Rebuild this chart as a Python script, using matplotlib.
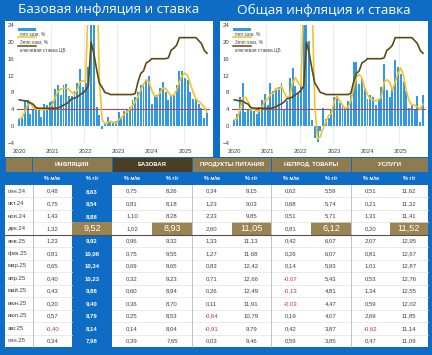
import numpy as np
import matplotlib
matplotlib.use('Agg')
import matplotlib.pyplot as plt
from matplotlib.patches import Rectangle
from matplotlib.lines import Line2D

plt.rcParams['font.family'] = ['Liberation Sans', 'DejaVu Sans']

# --- данные графиков: янв.2020 - сен.2025, помесячно ---
years = ['2020', '2021', '2022', '2023', '2024', '2025']

core_mm = [1.7, 2.0, 6.3, 6.3, 2.9, 3.9, 4.3, 3.9, 2.2, 5.3, 5.1, 5.7,
           5.9, 8.8, 9.8, 7.3, 9.8, 10.0, 7.1, 7.2, 8.3, 10.2, 13.6, 9.4,
           10.2, 14.0, 90.0, 30.0, 4.5, 2.7, -0.6, 0.6, 2.2, 1.2, 0.8, 1.2,
           3.3, 2.2, 3.5, 4.0, 4.6, 6.2, 6.8, 8.0, 9.8, 10.3, 11.0, 12.0,
           5.3, 7.2, 7.5, 9.0, 10.5, 8.2, 6.3, 7.5, 7.5, 9.7, 13.0, 13.0,
           11.5, 11.0, 8.0, 6.5, 6.5, 5.2, 4.3, 2.0, 3.2]
core_3m = [1.8, 2.0, 3.5, 5.0, 5.5, 4.5, 4.0, 4.0, 3.9, 3.8, 4.1, 4.3,
           5.2, 6.8, 8.2, 8.8, 9.0, 9.0, 8.7, 8.0, 7.6, 8.6, 10.5, 10.8,
           10.5, 30.0, 45.0, 45.0, 40.0, 11.0, 1.5, 0.6, 0.8, 1.2, 0.9, 0.6,
           1.5, 2.0, 2.8, 3.3, 4.0, 4.9, 5.8, 7.0, 8.5, 10.0, 11.0, 10.5,
           8.5, 7.2, 7.0, 8.0, 9.0, 9.0, 8.0, 7.2, 7.4, 8.5, 10.5, 12.0,
           12.6, 12.0, 10.0, 8.0, 6.5, 5.8, 5.3, 4.5, 3.3]
cpi_mm = [1.5, 2.8, 7.0, 10.2, 3.3, 3.9, 4.4, 3.6, 2.8, 4.5, 6.3, 7.7,
          4.9, 10.2, 8.3, 8.5, 9.3, 10.3, 4.0, 6.0, 11.5, 13.7, 9.5, 7.8,
          10.0, 30.0, 60.0, 20.2, 1.5, -2.7, -3.8, -1.2, 4.2, 1.8, 2.0, 4.0,
          7.0, 7.2, 5.5, 5.0, 4.5, 6.0, 7.5, 15.2, 15.2, 10.0, 11.3, 9.0,
          6.5, 7.5, 7.0, 5.0, 6.5, 9.2, 14.7, 8.5, 7.0, 9.0, 15.8, 14.0,
          12.3, 10.5, 8.3, 4.3, 5.0, 3.8, 7.2, 1.0, 7.5]
cpi_3m = [1.5, 1.8, 3.8, 6.7, 6.8, 5.8, 3.9, 4.0, 3.6, 3.6, 4.5, 6.1,
          6.3, 7.6, 7.8, 9.0, 8.7, 9.4, 7.9, 6.8, 7.2, 10.4, 11.5, 10.3,
          9.5, 30.0, 45.0, 45.0, 30.0, 5.0, -3.0, -2.5, -0.5, 1.0, 2.5, 3.0,
          6.0, 7.0, 6.0, 5.0, 4.2, 4.5, 6.0, 9.0, 11.5, 12.3, 11.5, 9.0,
          7.5, 6.5, 6.2, 6.0, 6.2, 7.0, 10.5, 11.0, 10.5, 8.5, 10.5, 12.5,
          13.8, 12.0, 8.5, 6.0, 5.0, 5.0, 4.5, 4.0, 5.2]
key_rate = [6.25, 6.1, 6.0, 5.95, 5.5, 5.2, 4.4, 4.25, 4.25, 4.25, 4.25, 4.25,
            4.25, 4.25, 4.35, 4.6, 5.0, 5.3, 5.8, 6.5, 6.65, 6.9, 7.5, 7.85,
            8.5, 9.5, 20.0, 17.2, 13.5, 10.2, 9.2, 8.0, 7.8, 7.5, 7.5, 7.5,
            7.5, 7.5, 7.5, 7.5, 7.5, 7.5, 7.75, 10.5, 12.5, 13.1, 15.0, 15.4,
            16.0, 16.0, 16.0, 16.0, 16.0, 16.0, 16.2, 18.0, 18.5, 19.2, 21.0, 21.0,
            21.0, 21.0, 21.0, 21.0, 21.0, 20.3, 19.6, 18.0, 17.3]
target = 4

# --- данные таблицы ---
row_labels = ['сен.24', 'окт.24', 'ноя.24', 'дек.24', 'янв.25', 'фев.25', 'мар.25',
              'апр.25', 'май.25', 'июн.25', 'июл.25', 'авг.25', 'сен.25']
groups = ['ИНФЛЯЦИЯ', 'БАЗОВАЯ', 'ПРОДУКТЫ ПИТАНИЯ', 'НЕПРОД. ТОВАРЫ', 'УСЛУГИ']
infl_mm = [0.48, 0.75, 1.43, 1.32, 1.23, 0.81, 0.65, 0.40, 0.43, 0.20, 0.57, -0.40, 0.34]
infl_yy = [8.63, 8.54, 8.88, 9.52, 9.92, 10.06, 10.34, 10.23, 9.88, 9.40, 8.79, 8.14, 7.98]
base_mm = [0.75, 0.81, 1.10, 1.02, 0.96, 0.75, 0.69, 0.32, 0.60, 0.36, 0.25, 0.14, 0.39]
base_yy = [8.26, 8.18, 8.28, 8.93, 9.32, 9.55, 9.65, 9.23, 8.94, 8.70, 8.53, 8.04, 7.65]
food_mm = [0.34, 1.23, 2.33, 2.60, 1.33, 1.27, 0.83, 0.71, 0.26, 0.11, -0.64, -0.91, 0.03]
food_yy = [9.15, 9.03, 9.85, 11.05, 11.13, 11.68, 12.42, 12.66, 12.49, 11.91, 10.79, 9.79, 9.46]
nonfood_mm = [0.62, 0.68, 0.51, 0.81, 0.42, 0.26, 0.14, -0.07, -0.13, -0.03, 0.19, 0.42, 0.59]
nonfood_yy = [5.59, 5.74, 5.71, 6.12, 6.07, 6.07, 5.93, 5.43, 4.81, 4.47, 4.07, 3.87, 3.85]
serv_mm = [0.51, 0.21, 1.31, 0.20, 2.07, 0.81, 1.01, 0.53, 1.34, 0.59, 2.69, -0.62, 0.47]
serv_yy = [11.62, 11.32, 11.41, 11.52, 12.95, 12.67, 12.87, 12.76, 12.55, 12.02, 11.85, 11.14, 11.09]
highlight_row = 3

BLUE = '#0F6CC4'
GOLD = '#8E7B50'
DARKGOLD = '#4A3F25'
BARC = '#3399E0'
YEL = '#F4C22B'
KEYC = '#5E4A16'
TGT = '#B5455A'
TXT = '#404040'

W, H = 432, 355
fig = plt.figure(figsize=(W / 100, H / 100), dpi=100, facecolor=BLUE)
bg = fig.add_axes([0, 0, 1, 1])
bg.set_xlim(0, W)
bg.set_ylim(H, 0)
bg.axis('off')

# белые подложки графиков и заголовки
for x0, x1, title in [(5, 213, 'Базовая инфляция и ставка'),
                      (220, 428, 'Общая инфляция и ставка')]:
    bg.add_patch(Rectangle((x0, 21), x1 - x0, 136, fc='white', ec='none'))
    bg.text((x0 + x1) / 2, 10, title, ha='center', va='center', color='white',
            fontsize=9.7, family='Open Sans')


def chart(x0, x1, mm, m3):
    ax = fig.add_axes([x0 / W, (H - 143) / H, (x1 - x0) / W, 118 / H])
    ax.set_facecolor('white')
    idx = np.arange(len(mm))
    ax.bar(idx, mm, width=0.7, color=BARC, zorder=2)
    ax.axhline(target, color=TGT, lw=0.8, zorder=3)
    ax.plot(idx, m3, color=YEL, lw=1.2, zorder=4)
    ax.plot(idx, key_rate, color=KEYC, lw=1.2, zorder=5)
    ax.set_xlim(-0.85, 69.1)
    ax.set_ylim(-4, 24)
    ax.set_yticks(range(-4, 25, 4))
    ax.set_xticks(np.arange(len(years)) * 12)
    ax.set_xticklabels(years)
    for yr in range(1, len(years)):
        ax.axvline(yr * 12 - 0.5, color='#E8E8E8', lw=0.6, zorder=1)
    ax.tick_params(length=0, labelsize=4.3, colors=TXT, pad=2)
    ax.tick_params(axis='x', pad=4)
    for s in ax.spines.values():
        s.set_visible(False)
    # легенда
    tr = ax.transAxes
    ax.add_patch(Rectangle((0.005, 0.951), 0.093, 0.021, transform=tr,
                           fc=BARC, ec='none', zorder=6))
    ax.add_line(Line2D([0.005, 0.098], [0.898, 0.898], transform=tr, color=YEL, lw=1.1, zorder=6))
    ax.add_line(Line2D([0.005, 0.098], [0.826, 0.826], transform=tr, color=KEYC, lw=1.1, zorder=6))
    for yy, lab in [(0.928, 'mm saar, %'), (0.856, '3mm saar, %'), (0.788, 'ключевая ставка ЦБ')]:
        ax.text(0.016, yy, lab, transform=tr, fontsize=3.4, color=TXT, va='center', zorder=6)
    return ax


chart(17, 210, core_mm, core_3m)
chart(232, 426, cpi_mm, cpi_3m)

# --- таблица ---
edges = [5, 32.5, 72, 112, 152, 192, 231.5, 271, 311, 351, 390, 428]
h1_top, h1_bot = 158, 171.5
h2_bot = 185
rh = (347 - h2_bot) / len(row_labels)
table_end = h2_bot + rh * len(row_labels)

bg.add_patch(Rectangle((edges[0] + 0.5, h1_top), edges[1] - edges[0] - 1, h1_bot - h1_top,
                       fc=GOLD, ec='none'))
for g, name in enumerate(groups):
    gx0, gx1 = edges[1 + 2 * g], edges[3 + 2 * g]
    bg.add_patch(Rectangle((gx0 + 0.5, h1_top), gx1 - gx0 - 1, h1_bot - h1_top,
                           fc=DARKGOLD if g == 1 else GOLD, ec='none'))
    bg.text((gx0 + gx1) / 2, (h1_top + h1_bot) / 2, name, ha='center', va='center',
            color='white', fontsize=4.2, fontweight='bold')
    for k, sub in enumerate(['% м/м', '% г/г']):
        cx = (edges[1 + 2 * g + k] + edges[2 + 2 * g + k]) / 2
        bg.text(cx, (h1_bot + h2_bot) / 2 + 0.5, sub, ha='center', va='center',
                color='white', fontsize=4.0, fontweight='bold')

bg.add_patch(Rectangle((edges[0], h2_bot), edges[-1] - edges[0], table_end - h2_bot,
                       fc='white', ec='none'))
bg.add_patch(Rectangle((edges[2], h2_bot), edges[3] - edges[2], table_end - h2_bot,
                       fc=BLUE, ec='none'))

columns = [infl_mm, infl_yy, base_mm, base_yy, food_mm, food_yy,
           nonfood_mm, nonfood_yy, serv_mm, serv_yy]

for r, lab in enumerate(row_labels):
    y0 = h2_bot + r * rh
    yc = y0 + rh / 2
    bg.text(edges[0] + 2.5, yc, lab, ha='left', va='center', color=TXT, fontsize=4.3)
    if r > 0:
        for sx0, sx1 in [(edges[0], edges[2]), (edges[3], edges[-1])]:
            bg.plot([sx0, sx1], [y0, y0], color='#E2E2E2', lw=0.5)
    for c, vals in enumerate(columns):
        cx0, cx1 = edges[1 + c], edges[2 + c]
        v = vals[r]
        s = f'{v:.2f}'.replace('.', ',')
        if r == highlight_row and c % 2 == 1:
            bg.add_patch(Rectangle((cx0, y0), cx1 - cx0, rh, fc='#9A8452', ec='none'))
            bg.text((cx0 + cx1) / 2, yc, s, ha='center', va='center', color='white', fontsize=6.6)
        elif c == 1:
            bg.text((cx0 + cx1) / 2, yc, s, ha='center', va='center', color='white',
                    fontsize=4.3, fontweight='bold')
        else:
            bg.text((cx0 + cx1) / 2, yc, s, ha='center', va='center',
                    color='#C8303A' if v < 0 else TXT, fontsize=4.3)

for vx in [edges[1], edges[5], edges[7], edges[9]]:
    bg.plot([vx, vx], [h2_bot, table_end], color='#A8A8A8', lw=0.5)
ysep = h2_bot + (highlight_row + 1) * rh
bg.plot([edges[0], edges[-1]], [ysep, ysep], color='#505050', lw=0.8)

fig.savefig('out.png', dpi=100, facecolor=BLUE)
